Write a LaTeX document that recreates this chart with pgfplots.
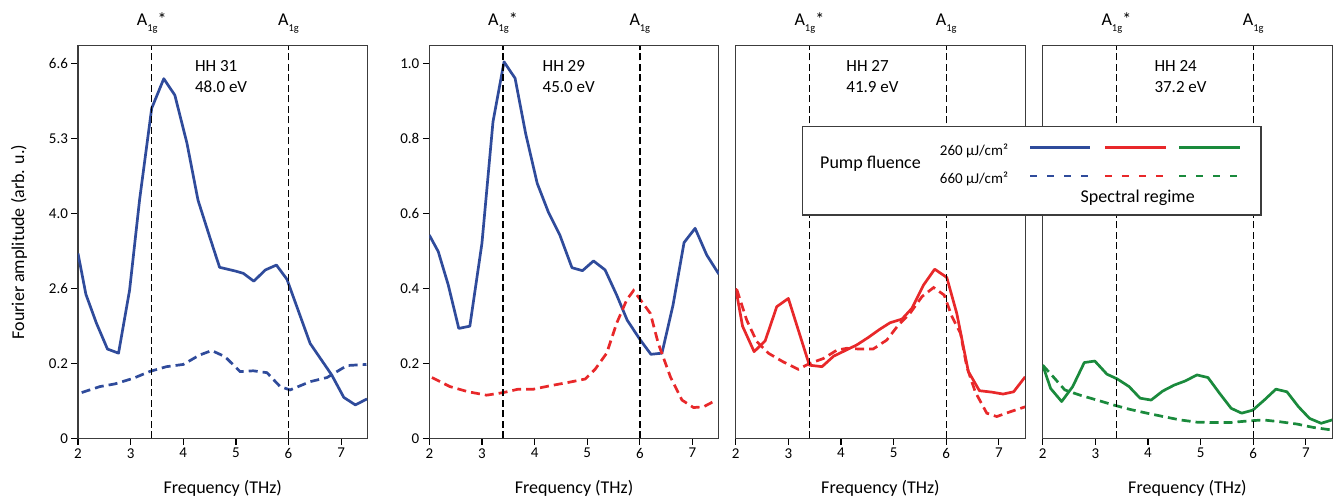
\documentclass[border=0pt]{standalone}
\usepackage{pgfplots}
\pgfplotsset{compat=1.18}
\usepackage{fontspec}
\setmainfont{Carlito}

\definecolor{cblue}{RGB}{47,75,155}
\definecolor{cred}{RGB}{232,40,42}
\definecolor{cgreen}{RGB}{26,138,60}
\definecolor{frame}{RGB}{60,60,60}

\pgfplotsset{
  panel/.style={
    scale only axis, width=289.5pt, height=392.6pt,
    anchor=south west,
    xmin=2, xmax=7.5, ymin=0, ymax=1.047,
    xtick={2,3,4,5,6,7},
    axis line style={frame, line width=1.2pt},
    tick align=outside, xtick pos=bottom, ytick pos=left,
    major tick length=6.5pt,
    every tick/.style={black, line width=1.2pt},
    ticklabel style={font=\fontsize{15}{18}\selectfont},
    /pgf/number format/assume math mode=true,
    xlabel={Frequency (THz)},
    xlabel style={font=\fontsize{18}{21}\selectfont,
      at={(axis description cs:0.5,0)}, anchor=center, yshift=-49.7pt},
    clip mode=individual,
  },
  dat solid/.style={line width=2.7pt, line join=round},
  dat dash/.style={line width=2.7pt, dash pattern=on 9pt off 5pt},
  mark line/.style={black, line width=1.5pt, dash pattern=on 7pt off 3.5pt},
}

\newcommand{\Aone}{A\raisebox{-5.5pt}{\fontsize{10.5}{11}\selectfont 1g}}

% A1g markers, labels and panel text
\newcommand{\markers}[3]{%
  \addplot[mark line] coordinates {(3.4,0)(3.4,1.047)};
  \addplot[mark line] coordinates {(6.0,0)(6.0,1.047)};
  \node[anchor=base, font=\fontsize{18}{21}\selectfont, yshift=19.7pt]
    at (axis cs:3.4,1.047) {\Aone*};
  \node[anchor=base, font=\fontsize{18}{21}\selectfont, yshift=19.7pt]
    at (axis cs:6.0,1.047) {\Aone};
  \node[anchor=base west, inner sep=0pt, font=\fontsize{17}{21}\selectfont]
    at (axis cs:#1,0.979) {#2};
  \node[anchor=base west, inner sep=0pt, font=\fontsize{17}{21}\selectfont]
    at (axis cs:#1,0.921) {#3};
}

\begin{document}
\begin{tikzpicture}[x=1pt, y=1pt]
\useasboundingbox (0,0) rectangle (1336,497);

% HH 31 (y axis is stretched, ticks relabelled)
\begin{axis}[panel, at={(78pt,58.7pt)},
  ytick={0,0.2,0.4,0.6,0.8,1.0},
  yticklabels={0,0.2,2.6,4.0,5.3,6.6},
  ylabel={Fourier amplitude (arb. u.)},
  ylabel style={font=\fontsize{18}{21}\selectfont,
    at={(axis description cs:0,0.5)}, anchor=center, yshift=59pt},
]
\addplot[dat solid, cblue] coordinates {
  (2.0,0.493)(2.15,0.384)(2.35,0.307)(2.56,0.238)(2.77,0.227)(2.98,0.395)
  (3.17,0.636)(3.40,0.880)(3.63,0.959)(3.84,0.915)(4.07,0.787)(4.28,0.635)
  (4.50,0.538)(4.69,0.456)(4.99,0.446)(5.14,0.440)(5.34,0.419)(5.56,0.449)
  (5.77,0.462)(5.97,0.424)(6.41,0.253)(6.82,0.169)(7.05,0.109)(7.27,0.089)
  (7.49,0.105)};
\addplot[dat dash, cblue] coordinates {
  (2.07,0.122)(2.42,0.138)(2.70,0.145)(3.05,0.160)(3.36,0.178)(3.68,0.191)
  (4.0,0.197)(4.31,0.222)(4.54,0.234)(4.79,0.218)(5.08,0.178)(5.33,0.180)
  (5.59,0.175)(5.84,0.138)(6.03,0.129)(6.41,0.151)(6.73,0.162)(7.11,0.194)
  (7.48,0.197)};
\markers{4.22}{HH 31}{48.0 eV}
\end{axis}

% HH 29
\begin{axis}[panel, at={(429.3pt,58.7pt)},
  ytick={0,0.2,0.4,0.6,0.8,1.0},
  yticklabels={0,0.2,0.4,0.6,0.8,1.0},
]
\addplot[dat solid, cblue] coordinates {
  (2.0,0.542)(2.17,0.498)(2.36,0.409)(2.56,0.293)(2.77,0.299)(3.0,0.52)
  (3.21,0.844)(3.42,1.004)(3.63,0.96)(3.83,0.813)(4.05,0.68)(4.26,0.604)
  (4.48,0.542)(4.71,0.455)(4.91,0.447)(5.12,0.473)(5.34,0.449)(5.56,0.382)
  (5.76,0.315)(6.0,0.264)(6.21,0.224)(6.42,0.227)(6.63,0.355)(6.84,0.522)
  (7.05,0.56)(7.27,0.489)(7.5,0.438)};
\addplot[dat dash, cred] coordinates {
  (2.05,0.162)(2.39,0.138)(2.74,0.124)(3.09,0.115)(3.41,0.122)(3.69,0.131)
  (3.98,0.131)(4.29,0.14)(4.64,0.149)(4.96,0.158)(5.15,0.184)(5.37,0.227)
  (5.56,0.307)(5.75,0.369)(5.88,0.394)(6.04,0.364)(6.2,0.333)(6.35,0.253)
  (6.58,0.164)(6.8,0.102)(7.02,0.082)(7.21,0.084)(7.4,0.098)};
\markers{4.15}{HH 29}{45.0 eV}
\end{axis}

% HH 27
\begin{axis}[panel, at={(735.7pt,58.7pt)}, ytick=\empty]
\addplot[dat solid, cred] coordinates {
  (2.0,0.4)(2.13,0.299)(2.35,0.231)(2.56,0.26)(2.78,0.351)(3.0,0.373)
  (3.2,0.284)(3.4,0.195)(3.64,0.191)(3.86,0.219)(4.08,0.234)(4.3,0.249)
  (4.52,0.269)(4.74,0.291)(4.93,0.308)(5.16,0.318)(5.35,0.347)(5.57,0.409)
  (5.78,0.451)(6.01,0.429)(6.2,0.333)(6.42,0.178)(6.63,0.127)(6.87,0.123)
  (7.08,0.118)(7.28,0.124)(7.5,0.164)};
\addplot[dat dash, cred] coordinates {
  (2.02,0.397)(2.21,0.315)(2.4,0.258)(2.62,0.227)(2.9,0.204)(3.19,0.184)
  (3.41,0.2)(3.67,0.213)(3.92,0.235)(4.11,0.24)(4.36,0.238)(4.61,0.238)
  (4.87,0.262)(5.09,0.302)(5.31,0.333)(5.54,0.378)(5.76,0.402)(5.96,0.382)
  (6.11,0.324)(6.27,0.28)(6.39,0.191)(6.55,0.124)(6.77,0.067)(6.96,0.058)
  (7.22,0.071)(7.5,0.084)};
\markers{4.1}{HH 27}{41.9 eV}
\end{axis}

% HH 24
\begin{axis}[panel, at={(1042.7pt,58.7pt)}, ytick=\empty]
\addplot[dat solid, cgreen] coordinates {
  (2.0,0.195)(2.15,0.133)(2.36,0.098)(2.57,0.138)(2.79,0.202)(2.99,0.206)
  (3.22,0.171)(3.42,0.158)(3.64,0.138)(3.85,0.107)(4.06,0.102)(4.28,0.126)
  (4.5,0.142)(4.71,0.153)(4.93,0.169)(5.14,0.162)(5.36,0.12)(5.58,0.08)
  (5.78,0.067)(5.99,0.075)(6.21,0.102)(6.43,0.131)(6.64,0.124)(6.86,0.084)
  (7.07,0.053)(7.29,0.04)(7.5,0.049)};
\addplot[dat dash, cgreen] coordinates {
  (2.0,0.195)(2.2,0.164)(2.42,0.129)(2.71,0.115)(3.03,0.102)(3.34,0.089)
  (3.66,0.077)(3.98,0.067)(4.29,0.058)(4.61,0.049)(4.93,0.043)(5.24,0.042)
  (5.56,0.042)(5.88,0.046)(6.19,0.049)(6.51,0.044)(6.83,0.038)(7.14,0.029)
  (7.5,0.022)};
\markers{4.12}{HH 24}{37.2 eV}
\end{axis}

% legend box
\draw[frame, line width=1.2pt, fill=white] (802.3,282) rectangle (1261,370.3);
\node[font=\fontsize{18}{21}\selectfont] at (870.5,333.7) {Pump fluence};
\node[font=\fontsize{15}{18}\selectfont] at (974,346.3) {260 µJ/cm²};
\node[font=\fontsize{15}{18}\selectfont] at (974,317.7) {660 µJ/cm²};
\draw[cblue, line width=2.7pt] (1030,349.3) -- (1090,349.3);
\draw[cred, line width=2.7pt] (1105,349.3) -- (1166,349.3);
\draw[cgreen, line width=2.7pt] (1179.3,349.3) -- (1240,349.3);
\draw[cblue, line width=2.7pt, dash pattern=on 7pt off 10pt] (1030,321) -- (1090,321);
\draw[cred, line width=2.7pt, dash pattern=on 7pt off 10pt] (1105,321) -- (1166,321);
\draw[cgreen, line width=2.7pt, dash pattern=on 7pt off 10pt] (1179.3,321) -- (1240,321);
\node[font=\fontsize{18}{21}\selectfont] at (1137.7,298.7) {Spectral regime};
\end{tikzpicture}
\end{document}
